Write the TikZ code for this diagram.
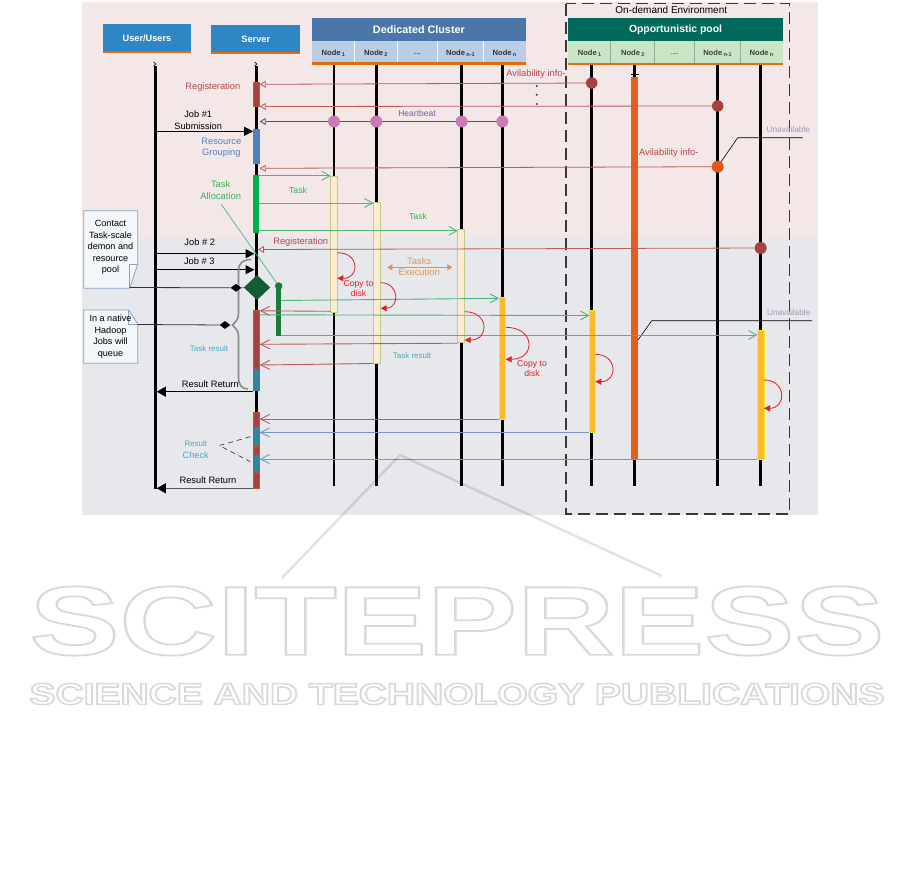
\documentclass[tikz,border=0pt]{standalone}
\usepackage{fontspec}
\setmainfont{Liberation Sans}
\usepackage{graphicx}
\usetikzlibrary{arrows.meta,shapes.geometric}
\newcommand{\fsz}[2]{\fontsize{#1}{#2}\selectfont}
\newcommand{\ndlbl}[1]{Node\,\raisebox{-1.3pt}{\fontsize{5.5}{5.5}\selectfont #1}}
\newcommand{\outlinetext}[2]{\special{pdf:literal 1 Tr #1 w}#2\special{pdf:literal 0 Tr}}
\definecolor{cPinkBg}{HTML}{F4E7E8}
\definecolor{cGrayBg}{HTML}{E6E8EC}
\definecolor{cHdrBlue}{HTML}{2E87C4}
\definecolor{cOrange}{HTML}{E46C0A}
\definecolor{cClTitle}{HTML}{4A76A9}
\definecolor{cClSub}{HTML}{B9CDE5}
\definecolor{cOpTitle}{HTML}{00695C}
\definecolor{cOpSub}{HTML}{C8E6C6}
\definecolor{cRedLine}{HTML}{C25A57}
\definecolor{cRegText}{HTML}{B5484B}
\definecolor{cDkRed}{HTML}{A5423F}
\definecolor{cPinkDot}{HTML}{CC7AB5}
\definecolor{cOrangeDot}{HTML}{E4561C}
\definecolor{cHB}{HTML}{604A7B}
\definecolor{cHBtext}{HTML}{7A5E9A}
\definecolor{cGreenLine}{HTML}{4DB77A}
\definecolor{cGreenText}{HTML}{3BB15A}
\definecolor{cGreenBar}{HTML}{00B050}
\definecolor{cDkGreen}{HTML}{145C33}
\definecolor{cGreenBar2}{HTML}{1B7A3C}
\definecolor{cSrvBlue}{HTML}{4F81BD}
\definecolor{cTeal}{HTML}{31849B}
\definecolor{cTealText}{HTML}{4BA6C4}
\definecolor{cPeach}{HTML}{FDEBD2}
\definecolor{cPeachBd}{HTML}{BFCB8A}
\definecolor{cYellow}{HTML}{FDB92D}
\definecolor{cYellowBd}{HTML}{F2EE1C}
\definecolor{cOrBar}{HTML}{E2601F}
\definecolor{cCopy}{HTML}{E31E24}
\definecolor{cExec}{HTML}{E3944A}
\definecolor{cUnav}{HTML}{A396B8}
\definecolor{cBlueLine}{HTML}{7896C4}
\definecolor{cNoteFill}{HTML}{F3F6FA}
\definecolor{cNoteBd}{HTML}{8DA3C5}
\definecolor{cBrace}{HTML}{8A8A8A}
\definecolor{cWater}{HTML}{D9D9D9}
\begin{document}
\begin{tikzpicture}[x=1pt,y=-1pt,
  txt/.style={inner sep=0pt, outer sep=0pt, align=center},
  life/.style={line width=2.8pt, black},
  envbox/.style={draw=black!78, line width=1.8pt, dash pattern=on 12pt off 6pt},
  regmsg/.style={draw=cRedLine, line width=0.8pt, -{Triangle[open, length=6pt, width=7pt]}},
  hbmsg/.style={draw=cHB, line width=0.8pt, -{Triangle[open, length=6pt, width=7pt]}},
  taskmsg/.style={draw=cGreenLine, line width=0.9pt, -{Straight Barb[length=8pt, width=9pt]}},
  resmsg/.style={draw=cRedLine, line width=0.9pt, -{Straight Barb[length=9pt, width=9pt]}},
  bluemsg/.style={draw=cBlueLine, line width=0.9pt, -{Straight Barb[length=9pt, width=9pt]}},
  jobmsg/.style={draw=black, line width=1.1pt, -{Triangle[length=9pt, width=9pt]}},
  retmsg/.style={line width=1.1pt, -{Triangle[length=9pt, width=10pt, black]}},
  selfmsg/.style={draw=cCopy, line width=0.8pt, -{Triangle[length=6pt, width=6pt]}},
  dot/.style={circle, inner sep=0pt, outer sep=0pt},
  note/.style={fill=cNoteFill, draw=cNoteBd, line width=0.8pt},
  peach/.style={fill=cPeach, draw=cPeachBd, line width=0.6pt},
  yel/.style={fill=cYellow, draw=cYellowBd, line width=0.8pt},
  hdrtext/.style={txt, text=white, font=\bfseries\fsz{9.2}{9.2}},
  celltext/.style={txt, font=\bfseries\fsz{7.6}{7.6}},
  wmline/.style={draw=black, opacity=0.11, line width=2.6pt, line join=round}
]
\useasboundingbox (0,0) rectangle (901,879);

% ---------- backgrounds ----------
\fill[cPinkBg] (82,2) rectangle (818,238);
\fill[cGrayBg] (82,238) rectangle (818,515);

% ---------- on-demand environment ----------
\draw[envbox] (566,3.5) rectangle (789.5,514);
\node[txt, font=\fsz{10}{10}] (envT) at (671.3,9.5) {On-demand Environment};

% ---------- headers ----------
\fill[cHdrBlue] (102.7,24) rectangle (191.3,51);
\fill[cOrange] (102.7,51) rectangle (191.3,53.3);
\node[hdrtext] (userT) at (147,38.5) {User/Users};
\fill[cHdrBlue] (211.3,25) rectangle (300.3,52);
\fill[cOrange] (211.3,52) rectangle (300.3,54.3);
\node[hdrtext] (srvT) at (255.8,39.5) {Server};

\fill[cClTitle] (312.3,18.3) rectangle (525.7,41);
\fill[cClSub] (312.3,41) rectangle (525.7,62.3);
\foreach \xx in {354.3,397.3,437.3,483.3} \draw[white!85!cClSub, line width=0.9pt] (\xx,41) -- (\xx,62.3);
\fill[cOrange] (312.3,62.3) rectangle (525.7,65);
\node[txt, text=white, font=\bfseries\fsz{10.8}{10.8}] (clT) at (418.9,29.8) {Dedicated Cluster};
\node[celltext, text=black!80] (cn1) at (333.3,53.3) {\ndlbl{1}};
\node[celltext, text=black!80] (cn2) at (375.8,53.3) {\ndlbl{2}};
\node[celltext, text=black!80, font=\bfseries\fsz{5}{5}] (cn3) at (417.3,54.5) {.....};
\node[celltext, text=black!80] (cn4) at (460.3,53.3) {\ndlbl{n-1}};
\node[celltext, text=black!80] (cn5) at (504.5,53.3) {\ndlbl{n}};

\fill[cOpTitle] (568.3,18.3) rectangle (782.7,41);
\fill[cOpSub] (568.3,41) rectangle (782.7,62.7);
\foreach \xx in {610.7,654.7,694.7,740.3} \draw[black!25!cOpSub, line width=0.9pt] (\xx,41) -- (\xx,62.7);
\fill[cOrange] (568.3,62.7) rectangle (782.7,64.7);
\node[txt, text=white, font=\bfseries\fsz{10.4}{10.4}] (opT) at (675.5,29.8) {Opportunistic pool};
\node[celltext, text=black!75] (on1) at (589.5,53.3) {\ndlbl{1}};
\node[celltext, text=black!75] (on2) at (632.7,53.3) {\ndlbl{2}};
\node[celltext, text=black!75, font=\bfseries\fsz{5}{5}] (on3) at (674.7,54.5) {.....};
\node[celltext, text=black!75] (on4) at (717.5,53.3) {\ndlbl{n-1}};
\node[celltext, text=black!75] (on5) at (761.5,53.3) {\ndlbl{n}};

% ---------- lifelines ----------
\draw[life] (155.3,66) -- (155.3,489);
\draw[life] (256.3,66) -- (256.3,488);
\foreach \xx in {334,376.3,461.7,502.3,591.7,717.7,760.7} \draw[life] (\xx,65) -- (\xx,486);
\draw[life] (634.5,65) -- (634.5,486);
\foreach \xx in {155.3,256.3} \draw[black, line width=0.6pt] (\xx-1.8,62) -- (\xx+0.6,64) -- (\xx-1.8,66);

% ---------- activation bars ----------
\filldraw[fill=cDkRed, draw=cDkRed!70!orange, line width=0.5pt] (253,82.7) rectangle (259.7,106.7);
\fill[cSrvBlue] (253,129.3) rectangle (259.7,164.3);
\fill[cGreenBar] (253,175) rectangle (259.4,233.3);
\filldraw[fill=cDkRed, draw=cDkRed!70!orange, line width=0.5pt] (253,310) rectangle (259.7,369);
\fill[cTeal] (253,369) rectangle (259.7,391);
\filldraw[fill=cDkRed, draw=cDkRed!70!orange, line width=0.5pt] (253,412.7) rectangle (259.7,427.3);
\fill[cTeal] (253,427.3) rectangle (259.7,446);
\filldraw[fill=cDkRed, draw=cDkRed!70!orange, line width=0.5pt] (253,446) rectangle (259.7,455);
\fill[cTeal] (253,455) rectangle (259.7,472.3);
\filldraw[fill=cDkRed, draw=cDkRed!70!orange, line width=0.5pt] (253,472.3) rectangle (259.7,488.3);

\draw[peach] (330.7,176) rectangle (337.3,312.3);
\draw[peach] (373.3,202) rectangle (380.7,363.3);
\draw[peach] (457.7,229.3) rectangle (464.7,342.7);
\draw[yel] (499,297.7) rectangle (505.7,419);
\draw[yel] (589.3,310) rectangle (595.3,432.7);
\draw[yel] (757.3,330) rectangle (764,459);
\fill[cOrBar] (631.3,76.7) rectangle (637.7,459);
\draw[black, line width=1pt] (630.5,74.5) -- (638.5,74.5);

% ---------- named message endpoints ----------
\coordinate (sReg1) at (259.7,84.3);
\coordinate (sReg2) at (259.7,106.5);
\coordinate (sHB) at (259.7,121.5);
\coordinate (sAv2) at (259.7,168.3);
\coordinate (sReg3) at (258,249.5);
\coordinate (pReg1) at (591.7,83);
\coordinate (pReg2) at (717.7,106);
\coordinate (pHB) at (502.3,121.5);
\coordinate (pAv2) at (717.7,166.7);
\coordinate (pReg3) at (760.7,248);

% registration / heartbeat
\draw[regmsg] (pReg1) -- (sReg1);
\draw[regmsg] (pReg2) -- (sReg2);
\draw[hbmsg] (pHB) -- (sHB);
\draw[regmsg] (pAv2) -- (sAv2);
\draw[regmsg] (pReg3) -- (sReg3);

% circles
\node[dot, fill=cDkRed, minimum size=11.5pt] (cR1) at (pReg1) {};
\node[dot, fill=cDkRed, minimum size=11.5pt] (cR2) at (pReg2) {};
\foreach \xx/\nm in {334/h1,376.3/h2,461.7/h3} \node[dot, fill=cPinkDot, minimum size=12pt] (\nm) at (\xx,121.5) {};
\node[dot, fill=cPinkDot, minimum size=12pt] (h4) at (pHB) {};
\node[dot, fill=cOrangeDot, minimum size=12pt] (cAv) at (pAv2) {};
\node[dot, fill=cDkRed, minimum size=12pt] (cR3) at (pReg3) {};

% availability dots
\foreach \yy in {86,94.7,104} \fill[black!75] (536.7,\yy) circle (1.1);

% unavailable annotations
\coordinate (ua1) at (737.7,137.7);
\coordinate (ua1e) at (802.7,137.7);
\draw[black, line width=0.6pt] (cAv) -- (ua1) -- (ua1e);
\coordinate (ua2s) at (638,340);
\coordinate (ua2) at (651.7,320.7);
\coordinate (ua2e) at (812,320.7);
\draw[black, line width=0.6pt] (ua2s) -- (ua2) -- (ua2e);

% job submissions
\coordinate (uJ1) at (157,131.3); \coordinate (sJ1) at (253,131.3);
\draw[jobmsg] (uJ1) -- (sJ1);
\coordinate (uJ2) at (157,253.7); \coordinate (sJ2) at (254.5,253.7);
\draw[jobmsg] (uJ2) -- (sJ2);
\coordinate (uJ3) at (157,269.7); \coordinate (sJ3) at (254.5,269.7);
\draw[jobmsg] (uJ3) -- (sJ3);

% tasks
\coordinate (sT1) at (259.4,175.8); \coordinate (nT1) at (330.7,175.8);
\coordinate (sT2) at (259.4,203); \coordinate (nT2) at (373.3,203);
\coordinate (sT3) at (259.4,230.8); \coordinate (nT3) at (457.7,230.8);
\draw[taskmsg] (sT1) -- (nT1);
\draw[taskmsg] (sT2) -- (nT2);
\draw[taskmsg] (sT3) -- (nT3);

% diamond + green bar
\node[diamond, fill=cDkGreen, inner sep=0pt, minimum width=26.6pt, minimum height=25pt] (dia) at (257,287.5) {};
\fill[cGreenBar2] (276.3,286) rectangle (281,335.7);
\node[dot, fill=cGreenBar2, minimum size=7.5pt] (gdot) at (278.7,286) {};
\coordinate (gA) at (281,300.5); \coordinate (gAe) at (499,298.3);
\coordinate (gB) at (260,314.8); \coordinate (gBe) at (589.3,315.5);
\coordinate (gC) at (281,335); \coordinate (gCe) at (757.3,335);
\draw[taskmsg] (gA) -- (gAe);
\draw[taskmsg] (gB) -- (gBe);
\draw[taskmsg] (gC) -- (gCe);
\coordinate (taLbl) at (221.3,204.3);
\draw[cGreenLine, line width=0.7pt] (taLbl) -- (gdot);

% results
\coordinate (nR1) at (330.7,311.3); \coordinate (sR1) at (259.7,310.8);
\coordinate (nR2) at (457.7,343.2); \coordinate (sR2) at (259.7,344.3);
\coordinate (nR3) at (373.3,363.5); \coordinate (sR3) at (259.7,365);
\coordinate (nR4) at (499,419); \coordinate (sR4) at (259.7,419);
\draw[resmsg] (nR1) -- (sR1);
\draw[resmsg] (nR2) -- (sR2);
\draw[resmsg] (nR3) -- (sR3);
\draw[resmsg] (nR4) -- (sR4);
\coordinate (pB1) at (589.3,432.5); \coordinate (sB1) at (259.7,432.5);
\coordinate (pB2) at (757.3,459); \coordinate (sB2) at (259.7,459);
\draw[bluemsg] (pB1) -- (sB1);
\draw[bluemsg] (pB2) -- (sB2);

% result returns
\coordinate (sRet1) at (253,391.7); \coordinate (uRet1) at (156.8,391.7);
\draw[retmsg, draw=black] (sRet1) -- (uRet1);
\coordinate (sRet2) at (253,488.3); \coordinate (uRet2) at (156.8,488.3);
\draw[retmsg, draw=black!65] (sRet2) -- (uRet2);

% self copy-to-disk arrows
\draw[selfmsg] (337.3,252.7) .. controls (360,252.7) and (360,278.3) .. (337.3,278.3);
\draw[selfmsg] (380.7,282.7) .. controls (399.8,282.7) and (399.8,308.3) .. (380.7,308.3);
\draw[selfmsg] (464.7,311.7) .. controls (489.5,311.7) and (489.5,340) .. (464.7,340);
\draw[selfmsg] (505.7,327.3) .. controls (535.8,327.3) and (535.8,359.3) .. (505.7,359.3);
\draw[selfmsg] (595.3,354.3) .. controls (618,354.3) and (618,381.7) .. (595.3,381.7);
\draw[selfmsg] (764,380) .. controls (786.7,380) and (786.7,408.3) .. (764,408.3);

% tasks execution
\coordinate (exA) at (387.3,267.3); \coordinate (exB) at (452.3,267.3);
\draw[cExec, line width=1pt, {Triangle[length=5pt,width=6pt]}-{Triangle[length=5pt,width=6pt]}] (exA) -- (exB);

% result check dashes
\coordinate (rcV) at (219.3,445.5);
\coordinate (rcA) at (250.3,436.7);
\coordinate (rcB) at (250.3,461.7);
\draw[black!75, line width=0.7pt, dash pattern=on 5pt off 4pt] (rcA) -- (rcV) -- (rcB);

% ---------- notes ----------
\draw[note] (83.7,210.7) -- (137.7,210.7) -- (137.7,264.3) -- (129.7,288.3) -- (83.7,288.3) -- cycle;
\draw[cNoteBd, line width=0.8pt] (137.7,264.3) -- (129.7,264.3) -- (129.7,288.3);
\node[txt, font=\fsz{9.1}{11.6}] (note1) at (110.5,247.5) {Contact\\Task-scale\\demon and\\resource\\pool};
\draw[note] (83.7,310) -- (128.7,310) -- (137.7,324) -- (137.7,363.3) -- (83.7,363.3) -- cycle;
\draw[cNoteBd, line width=0.8pt] (128.7,310) -- (128.7,324) -- (137.7,324);
\node[txt, font=\fsz{9.1}{11.6}] (note2) at (110.5,336.5) {In a native\\Hadoop\\Jobs will\\queue};

% brace and connectors
\draw[cBrace, line width=1.6pt] (251,259.5) .. controls (243,259.5) and (238.5,263) .. (238.5,271) -- (238.5,314) .. controls (238.5,320) and (235,322) .. (232.5,325) .. controls (235,328) and (238.5,330) .. (238.5,336) -- (238.5,377) .. controls (238.5,385) and (242,389) .. (248,389);
\coordinate (n1c) at (129.7,287.5);
\coordinate (n2c) at (137.7,324.5);
\node[diamond, fill=black, inner sep=0pt, minimum width=11pt, minimum height=8pt] (bd1) at (236,287.8) {};
\node[diamond, fill=black, inner sep=0pt, minimum width=11pt, minimum height=8pt] (bd2) at (225,325) {};
\draw[black!80, line width=0.8pt] (n1c) -- (bd1);
\draw[black!80, line width=0.8pt] (n2c) -- (bd2);
\draw[black!80, line width=0.8pt] (bd1) -- (dia);

% ---------- labels ----------
\node[txt, text=cRegText, font=\fsz{9.3}{9.3}] (lReg1) at (212.8,87.3) {Registeration};
\node[txt, font=\fsz{9.2}{11.7}] (lJob1) at (198.2,120.2) {Job \#1\\Submission};
\node[txt, text=cSrvBlue, font=\fsz{9.3}{11.4}] (lRG) at (221.3,148) {Resource\\Grouping};
\node[txt, text=cRegText, font=\fsz{9.3}{9.3}] (lAv1) at (536,74) {Avilability info-};
\node[txt, text=cHBtext, font=\fsz{8.5}{8.5}] (lHB) at (417,113.7) {Heartbeat};
\node[txt, text=cRegText, font=\fsz{9.3}{9.3}] (lAv2) at (668.8,153) {Avilability info-};
\node[txt, text=cUnav, font=\fsz{8.3}{8.3}] (lUn1) at (788.3,129.5) {Unavailable};
\node[txt, text=cUnav, font=\fsz{8.3}{8.3}] (lUn2) at (788.7,312.3) {Unavailable};
\node[txt, text=cGreenText, font=\fsz{9.4}{11.6}] (lTA) at (220.7,190) {Task\\Allocation};
\node[txt, text=cGreenText, font=\fsz{8.7}{8.7}] (lT1) at (298,190.7) {Task};
\node[txt, text=cGreenText, font=\fsz{8.7}{8.7}] (lT2) at (418,216) {Task};
\node[txt, text=cRegText, font=\fsz{9.3}{9.3}] (lReg3) at (300.7,241.7) {Registeration};
\node[txt, font=\fsz{9.3}{9.3}] (lJ2) at (199.7,242.3) {Job \# 2};
\node[txt, font=\fsz{9.3}{9.3}] (lJ3) at (199.3,261.3) {Job \# 3};
\node[txt, text=cExec, font=\fsz{9.4}{11.6}] (lEx) at (419.2,266.5) {Tasks\\Execution};
\node[txt, text=cCopy, font=\fsz{8.6}{10}] (lCp1) at (358.5,289) {Copy to\\disk};
\node[txt, text=cCopy, font=\fsz{8.6}{10}] (lCp2) at (532,368.3) {Copy to\\disk};
\node[txt, text=cTealText, font=\fsz{8}{8}] (lTR1) at (209,348.3) {Task result};
\node[txt, text=cTealText, font=\fsz{8}{8}] (lTR2) at (412,355.7) {Task result};
\node[txt, font=\fsz{9.3}{9.3}] (lRR1) at (210.3,383.7) {Result Return};
\node[txt, text=cTealText, font=\fsz{7.9}{7.9}] (lRC1) at (195.8,444) {Result};
\node[txt, text=cTealText, font=\fsz{9.2}{9.2}] (lRC2) at (195.7,455.7) {Check};
\node[txt, font=\fsz{9.3}{9.3}] (lRR2) at (208,480.3) {Result Return};

% ---------- watermark ----------
\draw[wmline] (282,578) -- (400,455) -- (662,576);
\node[txt, text=cWater] (wm1) at (457,621) {\scalebox{1.38}[1]{\fsz{97.8}{97.8}\bfseries\outlinetext{1.8}{SCITEPRESS}}};
\node[txt, text=cWater] (wm2) at (457,694) {\resizebox{855pt}{21pt}{\bfseries\outlinetext{0.5}{SCIENCE AND TECHNOLOGY PUBLICATIONS}}};
\end{tikzpicture}
\end{document}
